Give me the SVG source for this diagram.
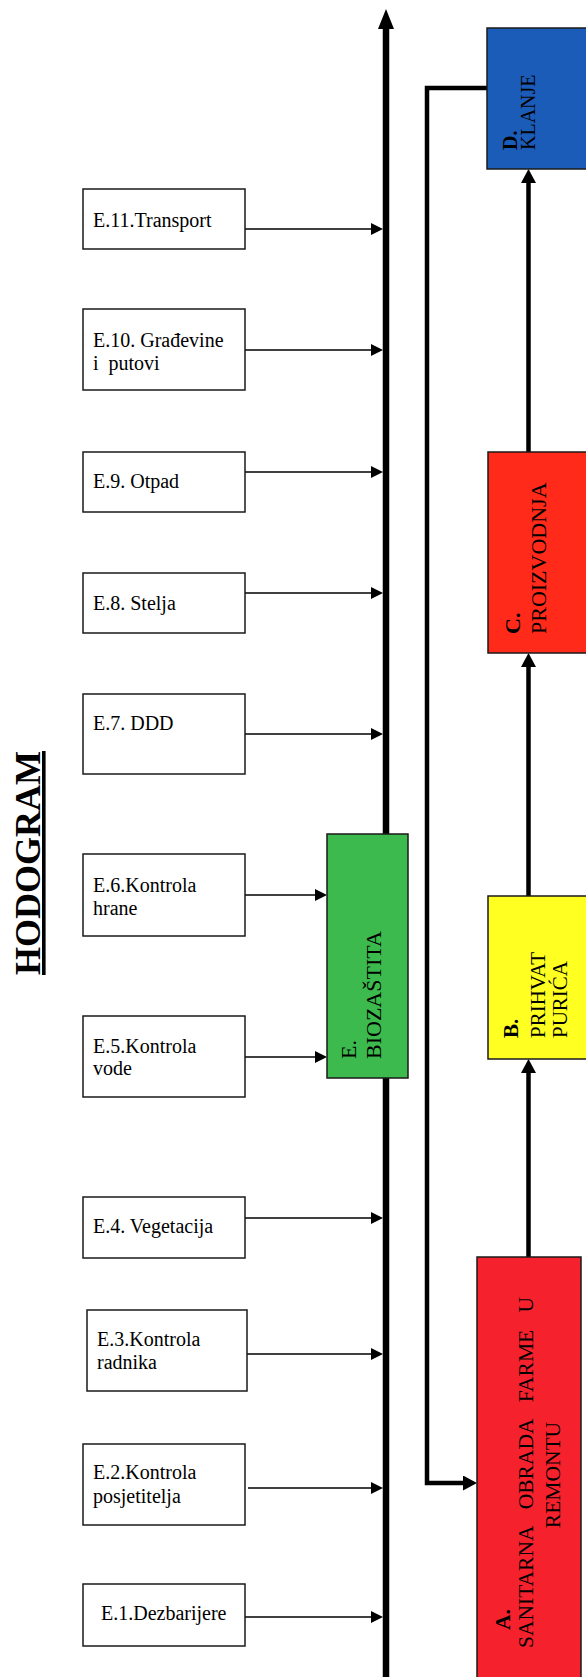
<svg xmlns="http://www.w3.org/2000/svg" width="586" height="1677" viewBox="0 0 586 1677">
<style>
text{font-family:"Liberation Serif","Times New Roman",serif;fill:#000}
.lbl{font-size:20px}
.box{fill:#fff;stroke:#1a1a1a;stroke-width:1.5}
.cbox{stroke:#1a1a1a;stroke-width:1.5}
.thin{stroke:#000;stroke-width:1.4;fill:none}
.thick{stroke:#000;stroke-width:4.5;fill:none;stroke-linejoin:miter}
.main{stroke:#000;stroke-width:6.5;fill:none}
.b{font-weight:bold}
</style>
<defs>
<marker id="mThin" markerUnits="userSpaceOnUse" markerWidth="12" markerHeight="12" refX="0" refY="6" orient="auto"><path d="M0,0 L12,6 L0,12 z" fill="#000"/></marker>
<marker id="mThick" markerUnits="userSpaceOnUse" markerWidth="14" markerHeight="15" refX="0" refY="7.5" orient="auto"><path d="M0,0 L14,7.5 L0,15 z" fill="#000"/></marker>
<marker id="mBig" markerUnits="userSpaceOnUse" markerWidth="20" markerHeight="17" refX="0" refY="8.5" orient="auto"><path d="M0,0.5 L20,8.5 L0,16.5 z" fill="#000"/></marker>
</defs>

<g id="title">
<text class="b" font-size="36" text-decoration="underline" transform="translate(40,975) rotate(-90)">HODOGRAM</text>
</g>

<g id="connectors">
<line class="main" x1="386" y1="1677" x2="386" y2="29" marker-end="url(#mBig)"/>
<path class="thick" d="M487,88 H427 V1483 H463" marker-end="url(#mThick)"/>
<line class="thick" x1="528.5" y1="1257" x2="528.5" y2="1073" marker-end="url(#mThick)"/>
<line class="thick" x1="528.5" y1="896" x2="528.5" y2="667" marker-end="url(#mThick)"/>
<line class="thick" x1="528.5" y1="452" x2="528.5" y2="183" marker-end="url(#mThick)"/>
<line class="thin" x1="245" y1="229" x2="371" y2="229" marker-end="url(#mThin)"/>
<line class="thin" x1="245" y1="350" x2="371" y2="350" marker-end="url(#mThin)"/>
<line class="thin" x1="245" y1="472" x2="371" y2="472" marker-end="url(#mThin)"/>
<line class="thin" x1="245" y1="593" x2="371" y2="593" marker-end="url(#mThin)"/>
<line class="thin" x1="245" y1="734" x2="371" y2="734" marker-end="url(#mThin)"/>
<line class="thin" x1="245" y1="895" x2="315" y2="895" marker-end="url(#mThin)"/>
<line class="thin" x1="245" y1="1057" x2="315" y2="1057" marker-end="url(#mThin)"/>
<line class="thin" x1="245" y1="1218" x2="371" y2="1218" marker-end="url(#mThin)"/>
<line class="thin" x1="247" y1="1354" x2="371" y2="1354" marker-end="url(#mThin)"/>
<line class="thin" x1="248" y1="1488" x2="371" y2="1488" marker-end="url(#mThin)"/>
<line class="thin" x1="245" y1="1617" x2="371" y2="1617" marker-end="url(#mThin)"/>
</g>

<g id="E11"><rect class="box" x="83" y="189" width="162" height="60"/><text class="lbl" x="93" y="227">E.11.Transport</text></g>
<g id="E10"><rect class="box" x="83" y="309" width="162" height="81"/><text class="lbl" x="93" y="347">E.10. Građevine</text><text class="lbl" x="93" y="370" xml:space="preserve">i  putovi</text></g>
<g id="E9"><rect class="box" x="83" y="452" width="162" height="60"/><text class="lbl" x="93" y="488">E.9. Otpad</text></g>
<g id="E8"><rect class="box" x="83" y="573" width="162" height="60"/><text class="lbl" x="93" y="610">E.8. Stelja</text></g>
<g id="E7"><rect class="box" x="83" y="694" width="162" height="80"/><text class="lbl" x="93" y="730">E.7. DDD</text></g>
<g id="E6"><rect class="box" x="83" y="854" width="162" height="82"/><text class="lbl" x="93" y="892">E.6.Kontrola</text><text class="lbl" x="93" y="915">hrane</text></g>
<g id="E5"><rect class="box" x="83" y="1016" width="162" height="81"/><text class="lbl" x="93" y="1053">E.5.Kontrola</text><text class="lbl" x="93" y="1075">vode</text></g>
<g id="E4"><rect class="box" x="83" y="1197" width="162" height="61"/><text class="lbl" x="93" y="1233">E.4. Vegetacija</text></g>
<g id="E3"><rect class="box" x="87" y="1310" width="160" height="81"/><text class="lbl" x="97" y="1346">E.3.Kontrola</text><text class="lbl" x="97" y="1369">radnika</text></g>
<g id="E2"><rect class="box" x="83" y="1444" width="162" height="81"/><text class="lbl" x="93" y="1479">E.2.Kontrola</text><text class="lbl" x="93" y="1503">posjetitelja</text></g>
<g id="E1"><rect class="box" x="83" y="1584" width="162" height="62"/><text class="lbl" x="101" y="1620">E.1.Dezbarijere</text></g>

<g id="E">
<rect class="cbox" x="327" y="834" width="81" height="244" fill="#3dba4e"/>
<text font-size="22" transform="translate(356,1059) rotate(-90)">E.</text>
<text font-size="22" transform="translate(381,1059) rotate(-90)">BIOZAŠTITA</text>
</g>

<g id="D">
<rect class="cbox" x="487" y="28" width="104" height="141" fill="#1c5cb9"/>
<text class="b" font-size="20" transform="translate(517,150) rotate(-90)">D.</text>
<text font-size="20" transform="translate(535,150) rotate(-90)">KLANJE</text>
</g>

<g id="C">
<rect class="cbox" x="488" y="452" width="103" height="201" fill="#ff2a1a"/>
<text class="b" font-size="22" transform="translate(520,634) rotate(-90)">C.</text>
<text font-size="22" transform="translate(546,634) rotate(-90)">PROIZVODNJA</text>
</g>

<g id="B">
<rect class="cbox" x="488" y="896" width="103" height="163" fill="#ffff22"/>
<text class="b" font-size="21" transform="translate(518,1038) rotate(-90)">B.</text>
<text font-size="21" transform="translate(545,1038) rotate(-90)">PRIHVAT</text>
<text font-size="21" transform="translate(567,1038) rotate(-90)">PURIĆA</text>
</g>

<g id="A">
<rect class="cbox" x="477" y="1257" width="104" height="430" fill="#f5222d"/>
<text class="b" font-size="21.5" transform="translate(510,1630) rotate(-90)">A.</text>
<text font-size="21.5" word-spacing="12" transform="translate(533,1648) rotate(-90)">SANITARNA OBRADA FARME U</text>
<text font-size="21.5" text-anchor="middle" transform="translate(560,1475) rotate(-90)">REMONTU</text>
</g>
</svg>
